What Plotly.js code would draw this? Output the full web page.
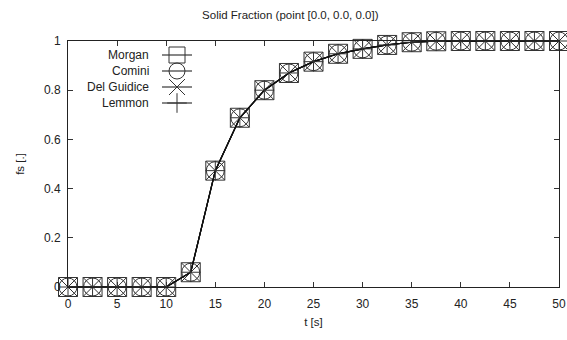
<!DOCTYPE html>
<html>
<head>
<meta charset="utf-8">
<script src="https://cdn.plot.ly/plotly-3.0.1.min.js"></script>
<style>html,body{margin:0;padding:0;background:#fff;}#chart{width:567px;height:340px;}</style>
</head>
<body>
<div id="chart"></div>
<script>
// Data
const time = [0, 2.5, 5, 7.5, 10, 12.5, 15, 17.5, 20, 22.5, 25, 27.5, 30, 32.5, 35, 37.5, 40, 42.5, 45, 47.5, 50];
const morgan = [0, 0, 0, 0, 0, 0.06, 0.473, 0.688, 0.80, 0.87, 0.916, 0.948, 0.968, 0.984, 0.995, 0.999, 1, 1, 1, 1, 1];
const comini = [0, 0, 0, 0, 0, 0.06, 0.473, 0.688, 0.80, 0.87, 0.916, 0.948, 0.968, 0.984, 0.995, 0.999, 1, 1, 1, 1, 1];
const delGuidice = [0, 0, 0, 0, 0, 0.06, 0.473, 0.688, 0.80, 0.87, 0.916, 0.948, 0.968, 0.984, 0.995, 0.999, 1, 1, 1, 1, 1];
const lemmon = [0, 0, 0, 0, 0, 0.06, 0.473, 0.688, 0.80, 0.87, 0.916, 0.948, 0.968, 0.984, 0.995, 0.999, 1, 1, 1, 1, 1];
const seriesNames = ['Morgan', 'Comini', 'Del Guidice', 'Lemmon'];
const seriesValues = [morgan, comini, delGuidice, lemmon];
const symbols = ['square-open', 'circle-open', 'x-thin-open', 'cross-thin-open'];
const symbolSizes = [19, 18, 19, 14];
const xTicks = [0, 5, 10, 15, 20, 25, 30, 35, 40, 45, 50];
const yTicks = [0, 0.2, 0.4, 0.6, 0.8, 1];
const yTickText = ['0', '0.2', '0.4', '0.6', '0.8', '1'];

const FONT = 'Liberation Sans, Arial, sans-serif';
const legendIds = ['legend', 'legend2', 'legend3', 'legend4'];

const traces = seriesValues.map((vals, i) => ({
  x: time,
  y: vals,
  name: '',
  legend: legendIds[i],
  type: 'scatter',
  mode: 'lines+markers',
  line: {color: '#111', width: 1.2},
  marker: {symbol: symbols[i], size: symbolSizes[i], color: '#333', line: {color: '#333', width: 1}},
  cliponaxis: false
}));

// legend row centres (px from top)
const rowCentres = [55, 71, 87, 103];
const plotTop = 41, plotH = 246, plotL = 68, plotW = 491;
const toPaperY = py => (plotTop + plotH - py) / plotH;

const annotations = seriesNames.map((n, i) => ({
  xref: 'paper', yref: 'paper',
  x: (151 - plotL) / plotW, y: toPaperY(rowCentres[i]),
  xanchor: 'right', yanchor: 'middle',
  text: n, showarrow: false,
  font: {family: FONT, size: 12, color: '#222'}
}));

const layout = {
  width: 567, height: 340,
  margin: {l: plotL, r: 8, t: plotTop, b: 53},
  paper_bgcolor: '#fff', plot_bgcolor: '#fff',
  font: {family: FONT, size: 12, color: '#222'},
  title: {text: 'Solid Fraction (point [0.0, 0.0, 0.0])', x: 0.512, xref: 'container', xanchor: 'center', y: 0.955, yref: 'container', yanchor: 'middle', font: {family: FONT, size: 11.5, color: '#222'}},
  showlegend: true,
  xaxis: {
    range: [0, 50], tickvals: xTicks, ticktext: xTicks.map(String),
    ticks: 'inside', ticklen: 5, tickcolor: '#333', tickwidth: 1,
    showline: true, linecolor: '#222', linewidth: 1, mirror: 'ticks',
    showgrid: false, zeroline: false, ticklabelstandoff: 6,
    tickfont: {family: FONT, size: 12, color: '#222'},
    title: {text: 't [s]', font: {family: FONT, size: 11.5, color: '#222'}, standoff: 7}
  },
  yaxis: {
    range: [0, 1], tickvals: yTicks, ticktext: yTickText,
    ticks: 'inside', ticklen: 5, tickcolor: '#333', tickwidth: 1,
    showline: true, linecolor: '#222', linewidth: 1, mirror: 'ticks',
    showgrid: false, zeroline: false, ticklabelstandoff: 4,
    tickfont: {family: FONT, size: 12, color: '#222'},
    title: {text: 'fs [.]', font: {family: FONT, size: 11.5, color: '#222'}, standoff: 16}
  },
  annotations: annotations
};

legendIds.forEach((id, i) => {
  layout[id] = {
    x: (157 - plotL) / plotW, y: toPaperY(rowCentres[i]),
    xanchor: 'left', yanchor: 'middle',
    bgcolor: 'rgba(0,0,0,0)', borderwidth: 0,
    font: {family: FONT, size: 12}, itemwidth: 30
  };
});

Plotly.newPlot('chart', traces, layout, {staticPlot: true, displayModeBar: false});
</script>
</body>
</html>
